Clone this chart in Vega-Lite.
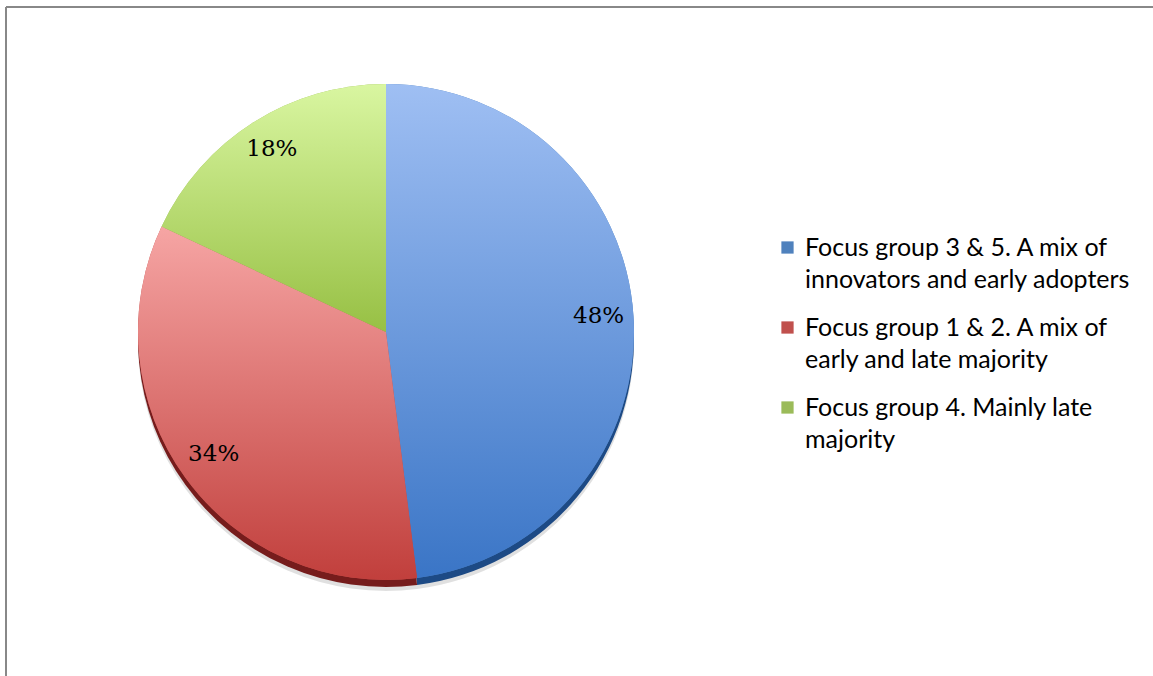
{
  "$schema": "https://vega.github.io/schema/vega-lite/v6.json",
  "width": 1147,
  "height": 669,
  "padding": {"left": 6, "top": 7, "right": 0, "bottom": 0},
  "autosize": {"type": "none"},
  "background": "white",
  "view": {"stroke": "#888888", "strokeWidth": 2, "strokeDash": [1147, 1816, 669, 0]},
  "config": {"view": {"stroke": "#888888", "strokeWidth": 2, "strokeDash": [1147, 1816, 669, 0]}},
  "data": {"values": [
    {"category": "Focus group 3 & 5. A mix of innovators and early adopters", "share": 0.48, "order": 1},
    {"category": "Focus group 1 & 2. A mix of early and late majority", "share": 0.34, "order": 2},
    {"category": "Focus group 4. Mainly late majority", "share": 0.18, "order": 3}
  ]},
  "transform": [{"stack": "share", "groupby": [], "sort": [{"field": "order", "order": "ascending"}], "as": ["v0", "v1"]}],
  "layer": [
    {
      "mark": {"type": "arc", "radius": 248, "x": 380, "y": 336, "fill": "#000000", "opacity": 0.12},
      "encoding": {
        "theta": {"field": "v0", "type": "quantitative", "scale": {"domain": [0, 1]}},
        "theta2": {"field": "v1"}
      }
    },
    {
      "mark": {"type": "arc", "radius": 248, "x": 380, "y": 332},
      "encoding": {
        "theta": {"field": "v0", "type": "quantitative", "scale": {"domain": [0, 1]}},
        "theta2": {"field": "v1"},
        "fill": {"field": "order", "type": "nominal", "legend": null,
          "scale": {"domain": [1, 2, 3], "range": ["#1d4a85", "#761c1c", "#56742a"]}}
      }
    },
    {
      "mark": {"type": "arc", "radius": 248, "x": 380, "y": 325},
      "encoding": {
        "theta": {"field": "v0", "type": "quantitative", "scale": {"domain": [0, 1]}},
        "theta2": {"field": "v1"},
        "color": {"field": "category", "type": "nominal",
          "scale": {"domain": ["Focus group 3 & 5. A mix of innovators and early adopters", "Focus group 1 & 2. A mix of early and late majority", "Focus group 4. Mainly late majority"],
                    "range": ["#4f81bd", "#c0504d", "#9bbb59"]},
          "legend": {
            "orient": "none", "legendX": 769, "legendY": 228, "title": null,
            "symbolType": "square", "symbolSize": 150, "symbolStrokeWidth": 0,
            "labelFont": "Lato", "labelFontSize": 25, "labelColor": "#000000",
            "labelLimit": 0, "labelOffset": 5, "rowPadding": 22, "padding": 0,
            "labelExpr": "datum.label == 'Focus group 3 & 5. A mix of innovators and early adopters' ? ['Focus group 3 & 5. A mix of', 'innovators and early adopters'] : datum.label == 'Focus group 1 & 2. A mix of early and late majority' ? ['Focus group 1 & 2. A mix of', 'early and late majority'] : ['Focus group 4. Mainly late', 'majority']",
            "encoding": {"labels": {"lineHeight": {"value": 32}}}
          }
        }
      }
    },
    {
      "transform": [{"filter": "datum.order == 1"}],
      "mark": {"type": "arc", "radius": 248, "x": 380, "y": 325,
        "fill": {"gradient": "linear", "x1": 0, "y1": 0, "x2": 0, "y2": 1,
          "stops": [{"offset": 0, "color": "#9fbff3"}, {"offset": 1, "color": "#3a75c6"}]}},
      "encoding": {
        "theta": {"field": "v0", "type": "quantitative", "scale": {"domain": [0, 1]}},
        "theta2": {"field": "v1"}
      }
    },
    {
      "transform": [{"filter": "datum.order == 2"}],
      "mark": {"type": "arc", "radius": 248, "x": 380, "y": 325,
        "fill": {"gradient": "linear", "x1": 0, "y1": 0, "x2": 0, "y2": 1,
          "stops": [{"offset": 0, "color": "#f6a5a4"}, {"offset": 1, "color": "#c13f3c"}]}},
      "encoding": {
        "theta": {"field": "v0", "type": "quantitative", "scale": {"domain": [0, 1]}},
        "theta2": {"field": "v1"}
      }
    },
    {
      "transform": [{"filter": "datum.order == 3"}],
      "mark": {"type": "arc", "radius": 248, "x": 380, "y": 325,
        "fill": {"gradient": "linear", "x1": 0, "y1": 0, "x2": 0, "y2": 1,
          "stops": [{"offset": 0, "color": "#d9f6a1"}, {"offset": 1, "color": "#97c044"}]}},
      "encoding": {
        "theta": {"field": "v0", "type": "quantitative", "scale": {"domain": [0, 1]}},
        "theta2": {"field": "v1"}
      }
    },
    {
      "mark": {"type": "text", "radius": 213, "x": 380, "y": 322, "font": "DejaVu Serif", "fontSize": 23, "color": "#000000"},
      "encoding": {
        "theta": {"field": "share", "type": "quantitative", "stack": true, "scale": {"domain": [0, 1]}},
        "order": {"field": "order"},
        "text": {"field": "share", "type": "quantitative", "format": ".0%"}
      }
    }
  ]
}
